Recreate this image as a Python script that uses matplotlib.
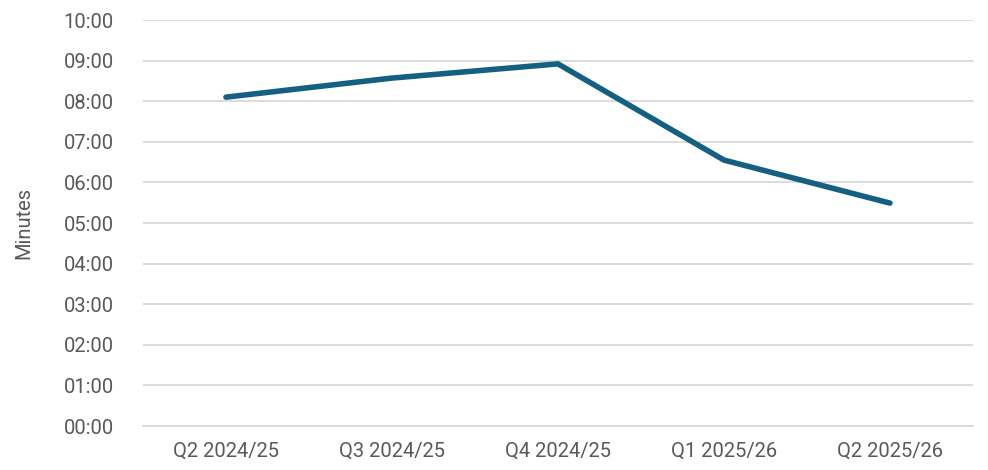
import matplotlib
matplotlib.use("Agg")
import matplotlib.pyplot as plt
import numpy as np

quarters = ['Q2 2024/25', 'Q3 2024/25', 'Q4 2024/25', 'Q1 2025/26', 'Q2 2025/26']
minutes = [8.10, 8.57, 8.92, 6.55, 5.49]
y_ticks = list(range(0, 11))
y_labels = ['%02d:00' % m for m in y_ticks]

plt.rcParams['font.family'] = ['Roboto', 'DejaVu Sans']

fig = plt.figure(figsize=(9.88, 4.70), dpi=100)
ax = fig.add_axes([0.1447, 0.0936, 0.8401, 0.8638])

x = np.arange(len(quarters)) + 0.5
ax.plot(x, minutes, color='#156082', linewidth=4, solid_capstyle='round', solid_joinstyle='miter', zorder=3)

ax.set_xlim(0, len(quarters))
ax.set_ylim(0, 10)
ax.set_xticks(x, quarters)
ax.set_yticks(y_ticks, y_labels)
ax.grid(axis='y', color='#d9d9d9', linewidth=1.3)
ax.set_axisbelow(True)
for s in ['left', 'right', 'top']:
    ax.spines[s].set_visible(False)
ax.spines['bottom'].set_color('#d9d9d9')
ax.spines['bottom'].set_linewidth(1.3)
ax.tick_params(axis='both', length=0, labelsize=14.5, colors='#595959')
ax.tick_params(axis='y', pad=21)
ax.tick_params(axis='x', pad=11)
ax.set_ylabel('Minutes', fontsize=14.5, color='#595959', labelpad=22)

fig.savefig('out.png', dpi=100)
